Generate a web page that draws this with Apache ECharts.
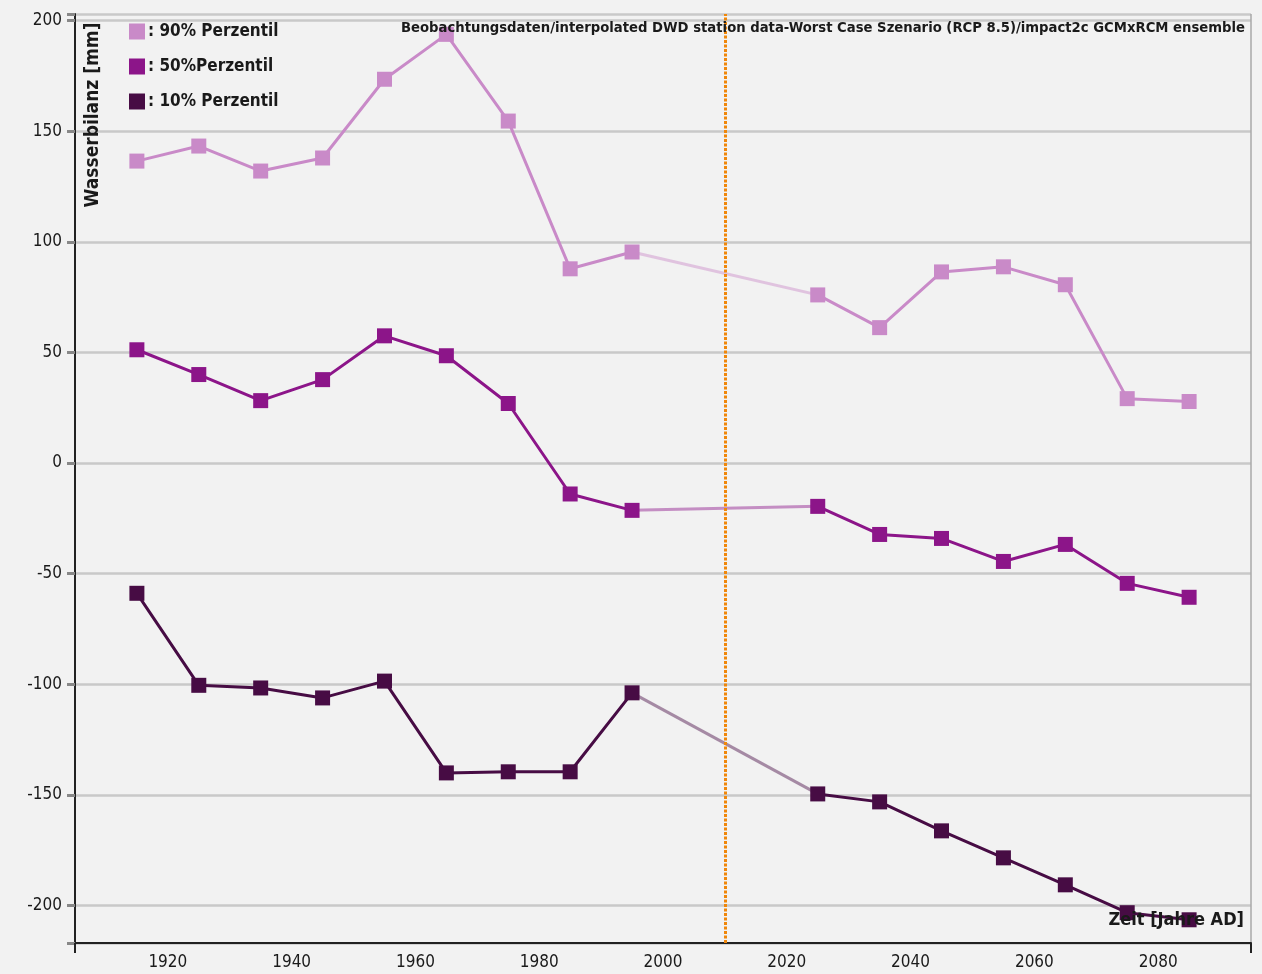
<!DOCTYPE html>
<html>
<head>
<meta charset="utf-8">
<script src="https://cdn.jsdelivr.net/npm/echarts@6/dist/echarts.min.js"></script>
<style>
  html, body { margin: 0; padding: 0; background: #f2f2f2; }
  #chart { width: 1262px; height: 974px; }
</style>
</head>
<body>
<div id="chart"></div>
<script>
// ========== 数据 ==========
const yearsObs = [1915, 1925, 1935, 1945, 1955, 1965, 1975, 1985, 1995];
const yearsProj = [2025, 2035, 2045, 2055, 2065, 2075, 2085];

const p90Obs = [136.5, 143.3, 132, 137.9, 173.5, 193.8, 154.6, 87.8, 95.4];
const p90Proj = [76, 61.2, 86.4, 88.7, 80.6, 29.1, 27.8];
const p50Obs = [51.2, 40, 28.2, 37.7, 57.5, 48.5, 26.9, -14, -21.4];
const p50Proj = [-19.6, -32.3, -34.1, -44.5, -36.8, -54.4, -60.7];
const p10Obs = [-58.9, -100.5, -101.7, -106.2, -98.6, -140.1, -139.6, -139.6, -103.9];
const p10Proj = [-149.6, -153.2, -166.3, -178.5, -190.7, -203.3, -206.5];

const seriesNames = [': 90% Perzentil', ': 50%Perzentil', ': 10% Perzentil'];
const seriesColors = ['#c98ac8', '#8c1589', '#470c44'];

const yTickLabels = [-200, -150, -100, -50, 0, 50, 100, 150, 200];
const xTickLabels = [1920, 1940, 1960, 1980, 2000, 2020, 2040, 2060, 2080];
const scenarioYear = 2010;

const FONT = "'DejaVu Sans Condensed', 'DejaVu Sans', sans-serif";

// ========== 系列构建 ==========
function toPoints(xs, ys) {
    return xs.map((x, i) => [x, ys[i]]);
}

function buildSeries(name, color, obs, proj) {
    const base = {
        name: name,
        type: 'line',
        symbol: 'rect',
        symbolSize: 15,
        itemStyle: { color: color },
        lineStyle: { color: color, width: 3 },
        animation: false
    };
    return [
        Object.assign({}, base, { data: toPoints(yearsObs, obs) }),
        {
            name: name,
            type: 'line',
            symbol: 'none',
            lineStyle: { color: color, width: 3, opacity: 0.45 },
            data: [[yearsObs[yearsObs.length - 1], obs[obs.length - 1]], [yearsProj[0], proj[0]]],
            animation: false
        },
        Object.assign({}, base, { data: toPoints(yearsProj, proj) })
    ];
}

const allSeries = [].concat(
    buildSeries(seriesNames[0], seriesColors[0], p90Obs, p90Proj),
    buildSeries(seriesNames[1], seriesColors[1], p50Obs, p50Proj),
    buildSeries(seriesNames[2], seriesColors[2], p10Obs, p10Proj)
);

// 橙色虚线 (观测/情景分界)
allSeries[0].markLine = {
    silent: true,
    symbol: ['none', 'none'],
    label: { show: false },
    lineStyle: { color: '#f0870a', type: [3, 1.5], width: 3 },
    data: [{ xAxis: scenarioYear }]
};

// ========== 图表 ==========
const myChart = echarts.init(document.getElementById('chart'));

const option = {
    backgroundColor: '#f2f2f2',
    textStyle: { fontFamily: FONT },
    grid: { left: 75, right: 11, top: 14, bottom: 31 },
    legend: {
        data: seriesNames,
        orient: 'vertical',
        left: 124,
        top: 18,
        icon: 'rect',
        itemWidth: 16,
        itemHeight: 16,
        itemGap: 18,
        selectedMode: false,
        textStyle: {
            fontFamily: FONT, fontSize: 17, fontWeight: 'bold', color: '#1a1a1a',
            lineHeight: 16, padding: [0, 0, 0, -2]
        }
    },
    xAxis: {
        type: 'value',
        min: 1905,
        max: 2095,
        splitNumber: 9,
        axisLine: { show: true, onZero: false, lineStyle: { color: '#222', width: 2 } },
        axisTick: { show: true, length: 10, customValues: [1905, 2095], lineStyle: { color: '#222', width: 2 } },
        axisLabel: {
            customValues: xTickLabels,
            formatter: v => String(v),
            fontFamily: FONT, fontSize: 17, color: '#1a1a1a', margin: 11
        },
        splitLine: { show: true, lineStyle: { color: '#a9a9a9', width: 1.5 } }
    },
    yAxis: {
        type: 'value',
        min: -217,
        max: 203,
        splitNumber: 8,
        axisLine: { show: true, lineStyle: { color: '#222', width: 2 } },
        axisTick: { show: true, length: 8, customValues: yTickLabels.concat([203, -217]), lineStyle: { color: '#888', width: 3 } },
        axisLabel: {
            customValues: yTickLabels,
            formatter: v => String(v),
            fontFamily: FONT, fontSize: 17, color: '#1a1a1a', margin: 13
        },
        splitLine: { show: true, lineStyle: { color: '#c9c9c9', width: 2.5 } }
    },
    graphic: [
        {
            type: 'text',
            x: 93,
            y: 115,
            rotation: Math.PI / 2,
            z: 100,
            style: {
                text: 'Wasserbilanz [mm]',
                fontFamily: FONT, fontSize: 19, fontWeight: 'bold', fill: '#1a1a1a',
                align: 'center', verticalAlign: 'middle'
            }
        },
        {
            type: 'text',
            x: 1245,
            y: 28,
            z: 100,
            style: {
                text: 'Beobachtungsdaten/interpolated DWD station data-Worst Case Szenario (RCP 8.5)/impact2c GCMxRCM ensemble',
                fontFamily: FONT, fontSize: 14.7, fontWeight: 'bold', fill: '#1a1a1a',
                align: 'right', verticalAlign: 'middle'
            }
        },
        {
            type: 'text',
            x: 1244,
            y: 920,
            z: 100,
            style: {
                text: 'Zeit [Jahre AD]',
                fontFamily: FONT, fontSize: 18, fontWeight: 'bold', fill: '#1a1a1a',
                align: 'right', verticalAlign: 'middle'
            }
        }
    ],
    series: allSeries
};

myChart.setOption(option);
window.addEventListener('resize', () => myChart.resize());
</script>
</body>
</html>
